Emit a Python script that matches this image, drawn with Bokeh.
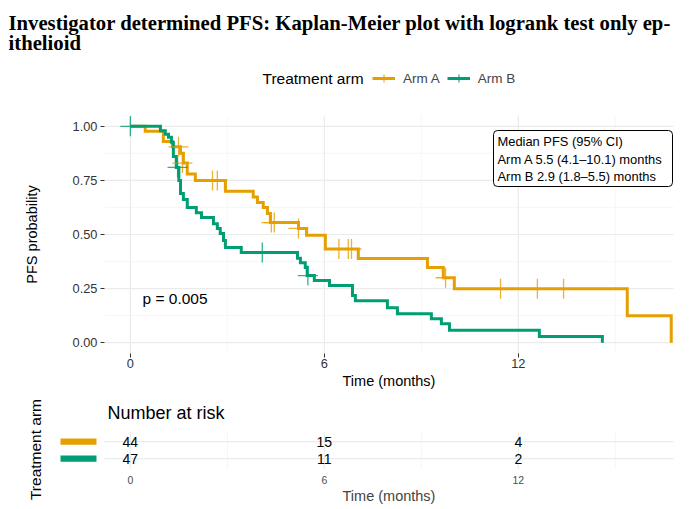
import math
from bokeh.plotting import figure
from bokeh.models import (Range1d, FixedTicker, Label, Legend, LegendItem, NumeralTickFormatter,
                          LinearAxis)
from bokeh.embed import file_html
from bokeh.resources import INLINE
from bokeh.core.properties import value

# ---------------- data ----------------
arm_a_time = [0, 0.46, 1.02, 1.30, 1.55, 1.64, 1.76, 2.01, 2.94, 3.80, 3.93, 4.11, 4.24, 4.33,
              5.20, 5.45, 6.03, 7.05, 9.19, 9.68, 10.02, 15.37, 16.73]
arm_a_surv = [1.0, 0.977, 0.93, 0.905, 0.875, 0.83, 0.78, 0.75, 0.70, 0.673, 0.648, 0.625, 0.597, 0.555,
              0.528, 0.497, 0.433, 0.389, 0.347, 0.30, 0.249, 0.125, 0.0]
arm_a_cens_time = [1.49, 1.61, 2.54, 2.69, 4.36, 4.45, 5.20, 6.45, 6.74, 6.84, 9.75, 11.45, 12.59, 13.40]
arm_a_cens_surv = [0.905, 0.83, 0.75, 0.75, 0.555, 0.555, 0.528, 0.433, 0.433, 0.433, 0.30, 0.249, 0.249, 0.249]

arm_b_time = [0, 0.93, 1.08, 1.18, 1.27, 1.33, 1.42, 1.50, 1.55, 1.64, 1.76, 2.04, 2.20, 2.57, 2.69,
              2.78, 2.88, 2.94, 3.43, 5.17, 5.26, 5.41, 5.47, 5.69, 6.16, 6.87, 6.96, 7.95, 8.26,
              9.31, 9.62, 9.87, 12.65, 14.60]
arm_b_surv = [1.0, 0.979, 0.963, 0.95, 0.926, 0.86, 0.81, 0.75, 0.69, 0.662, 0.625, 0.60, 0.578, 0.55, 0.528,
              0.505, 0.472, 0.44, 0.417, 0.39, 0.37, 0.347, 0.31, 0.287, 0.264, 0.218, 0.194, 0.162, 0.134,
              0.111, 0.088, 0.058, 0.028, 0.0]
arm_b_cens_time = [0.0, 1.46, 4.08, 5.49]
arm_b_cens_surv = [1.0, 0.81, 0.417, 0.31]

arms = ["Arm A", "Arm B"]
risk_times = [0, 6, 12]
risk_arm_a = [44, 15, 4]
risk_arm_b = [47, 11, 2]
x_ticks = [0, 6, 12]
x_minor = [3, 9, 15]
y_ticks = [0, 0.25, 0.5, 0.75, 1.0]
y_minor = [0.125, 0.375, 0.625, 0.875]
median_text = ["Median PFS (95% CI)", "Arm A 5.5 (4.1\u201310.1) months", "Arm B 2.9 (1.8\u20135.5) months"]
p_text = "p = 0.005"
title_lines = ["Investigator determined PFS: Kaplan-Meier plot with logrank test only ep-", "ithelioid"]

ORANGE = "#E69F00"
GREEN = "#009E73"
FONT = "Liberation Sans"
SERIF = "Liberation Serif"

# ---------------- geometry: panel limits and pixel helpers (layout only) ----------------
W, H = 690, 509
X_LIM = (-0.8, 16.8)          # KM panel x limits
Y_LIM = (-0.05, 1.05)         # KM panel y limits
R_LIM = (0.4, 2.6)            # risk table row limits
PANEL_L, PANEL_R, PANEL_T, PANEL_B = 104, 673, 115, 353
RISK_T, RISK_PX = 431, 17.0

XS = (PANEL_R - PANEL_L) / (X_LIM[1] - X_LIM[0])
YS = (PANEL_B - PANEL_T) / (Y_LIM[1] - Y_LIM[0])


def px2x(px):
    return X_LIM[0] + (px - PANEL_L) / XS


def px2y(py):
    return Y_LIM[1] - (py - PANEL_T) / YS


def px2r(py):
    return R_LIM[1] - (py - RISK_T) / RISK_PX


p = figure(width=W, height=H, x_range=Range1d(px2x(0), px2x(W)), y_range=Range1d(px2y(H), px2y(0)),
           output_backend="svg", toolbar_location=None, x_axis_location=None, y_axis_location=None,
           min_border=0, min_border_left=0, min_border_right=0, min_border_top=0, min_border_bottom=0)
p.extra_y_ranges = {"risk": Range1d(px2r(H), px2r(0))}
p.outline_line_color = None
p.background_fill_color = "white"
p.border_fill_color = "white"
p.grid.visible = False

# ---------------- grid lines ----------------
GRID = "#EBEBEB"
GRID_MINOR = "#F3F3F3"
p.segment(x0=x_minor, y0=Y_LIM[0], x1=x_minor, y1=Y_LIM[1], line_color=GRID_MINOR, line_width=0.7)
p.segment(x0=X_LIM[0], y0=y_minor, x1=X_LIM[1], y1=y_minor, line_color=GRID_MINOR, line_width=0.7)
p.segment(x0=x_ticks, y0=Y_LIM[0], x1=x_ticks, y1=Y_LIM[1], line_color=GRID, line_width=1.2)
p.segment(x0=X_LIM[0], y0=y_ticks, x1=X_LIM[1], y1=y_ticks, line_color=GRID, line_width=1.2)

rows = [2, 1]
p.segment(x0=x_minor, y0=R_LIM[0], x1=x_minor, y1=R_LIM[1], line_color=GRID_MINOR, line_width=0.8,
          y_range_name="risk")
p.segment(x0=x_ticks, y0=R_LIM[0], x1=x_ticks, y1=R_LIM[1], line_color=GRID, line_width=1.1,
          y_range_name="risk")
p.segment(x0=X_LIM[0], y0=rows, x1=X_LIM[1], y1=rows, line_color=GRID, line_width=1.2,
          y_range_name="risk")

# ---------------- axes ----------------
xa = LinearAxis(fixed_location=Y_LIM[0], bounds=X_LIM, ticker=FixedTicker(ticks=x_ticks))
ya = LinearAxis(fixed_location=X_LIM[0], bounds=Y_LIM, ticker=FixedTicker(ticks=y_ticks),
                formatter=NumeralTickFormatter(format="0.00"))
for ax in (xa, ya):
    ax.axis_line_color = None
    ax.major_tick_in = 0
    ax.major_tick_out = 4
    ax.major_tick_line_color = "#333333"
    ax.minor_tick_line_color = None
    ax.major_label_text_font = FONT
    ax.major_label_text_font_size = "12.8px"
    ax.major_label_text_color = "#333333"
    ax.axis_label_text_font = FONT
    ax.axis_label_text_font_size = "14.5px"
    ax.axis_label_text_font_style = "normal"
    ax.axis_label_text_color = "black"
xa.axis_label = "Time (months)"
ya.axis_label = "PFS probability"
xa.major_label_standoff = 1
xa.axis_label_standoff = 2
ya.major_label_standoff = 3
ya.axis_label_standoff = 30
p.add_layout(xa, "below")
p.add_layout(ya, "left")

ra = LinearAxis(y_range_name="risk", fixed_location=R_LIM[0], bounds=X_LIM,
                ticker=FixedTicker(ticks=x_ticks))
ra.axis_line_color = None
ra.major_tick_line_color = None
ra.minor_tick_line_color = None
ra.major_label_text_font = FONT
ra.major_label_text_font_size = "10.5px"
ra.major_label_text_color = "#4D4D4D"
ra.major_label_standoff = 1
ra.axis_label = "Time (months)"
ra.axis_label_text_font = FONT
ra.axis_label_text_font_size = "14.5px"
ra.axis_label_text_font_style = "normal"
ra.axis_label_standoff = 1
p.add_layout(ra, "below")

# ---------------- KM curves ----------------
la = p.step(arm_a_time, arm_a_surv, mode="after", line_color=ORANGE, line_width=3, line_join="miter")
lb = p.step(arm_b_time, arm_b_surv, mode="after", line_color=GREEN, line_width=3, line_join="miter")
ca = p.scatter(arm_a_cens_time, arm_a_cens_surv, marker="cross", size=20, line_color=ORANGE,
               line_width=1.3, line_alpha=0.8)
cb = p.scatter(arm_b_cens_time, arm_b_cens_surv, marker="cross", size=20, line_color=GREEN,
               line_width=1.3, line_alpha=0.8)

legend = Legend(items=[LegendItem(label=arms[0], renderers=[la, ca]),
                       LegendItem(label=arms[1], renderers=[lb, cb])],
                orientation="horizontal", location=(372, H - 88),
                glyph_width=23, glyph_height=20, label_standoff=8, spacing=7,
                padding=0, margin=0, border_line_color=None, background_fill_alpha=0,
                label_text_font=FONT, label_text_font_size="13.5px")
p.add_layout(legend)
p.add_layout(Label(x=px2x(262), y=px2y(78), text="Treatment arm", text_baseline="middle",
                   text_font=FONT, text_font_size="15.5px", text_color="black"))

# titles
p.add_layout(Label(x=px2x(8), y=px2y(22), text=title_lines[0], text_baseline="alphabetic",
                   text_font=SERIF, text_font_size="20.7px", text_font_style="bold", text_color="black"))
p.add_layout(Label(x=px2x(8), y=px2y(42), text=title_lines[1], text_baseline="alphabetic",
                   text_font=SERIF, text_font_size="20.7px", text_font_style="bold", text_color="black"))

# p-value
p.add_layout(Label(x=px2x(142), y=px2y(298), text=p_text, text_baseline="middle",
                   text_font=FONT, text_font_size="15.5px", text_color="black"))

# median box
p.quad(left=px2x(493), right=px2x(672), top=px2y(130), bottom=px2y(186), fill_color="white",
       line_color="black", line_width=1, border_radius=4)
for i, line in enumerate(median_text):
    p.add_layout(Label(x=px2x(497), y=px2y(141 + 17.5 * i), text=line, text_baseline="middle",
                       text_font=FONT, text_font_size="12.9px", text_color="black"))

# ---------------- risk table ----------------
p.hbar(y=rows, left=px2x(60), right=px2x(96), height=0.37, fill_color=[ORANGE, GREEN], line_color=None,
       y_range_name="risk")
p.text(x=risk_times, y=[2] * len(risk_times), text=[str(v) for v in risk_arm_a],
       text_align="center", text_baseline="middle", text_font=value(FONT), text_font_size="14px",
       text_color="black", y_range_name="risk")
p.text(x=risk_times, y=[1] * len(risk_times), text=[str(v) for v in risk_arm_b],
       text_align="center", text_baseline="middle", text_font=value(FONT), text_font_size="14px",
       text_color="black", y_range_name="risk")
p.add_layout(Label(x=px2x(107), y=px2r(412), y_range_name="risk", text="Number at risk",
                   text_baseline="middle", text_font=FONT, text_font_size="18px", text_color="black"))
p.add_layout(Label(x=px2x(35), y=px2r(449), y_range_name="risk", text="Treatment arm",
                   angle=math.pi / 2, text_align="center", text_baseline="middle",
                   text_font=FONT, text_font_size="15.5px", text_color="black"))

open("out.html", "w").write(file_html(p, INLINE))
